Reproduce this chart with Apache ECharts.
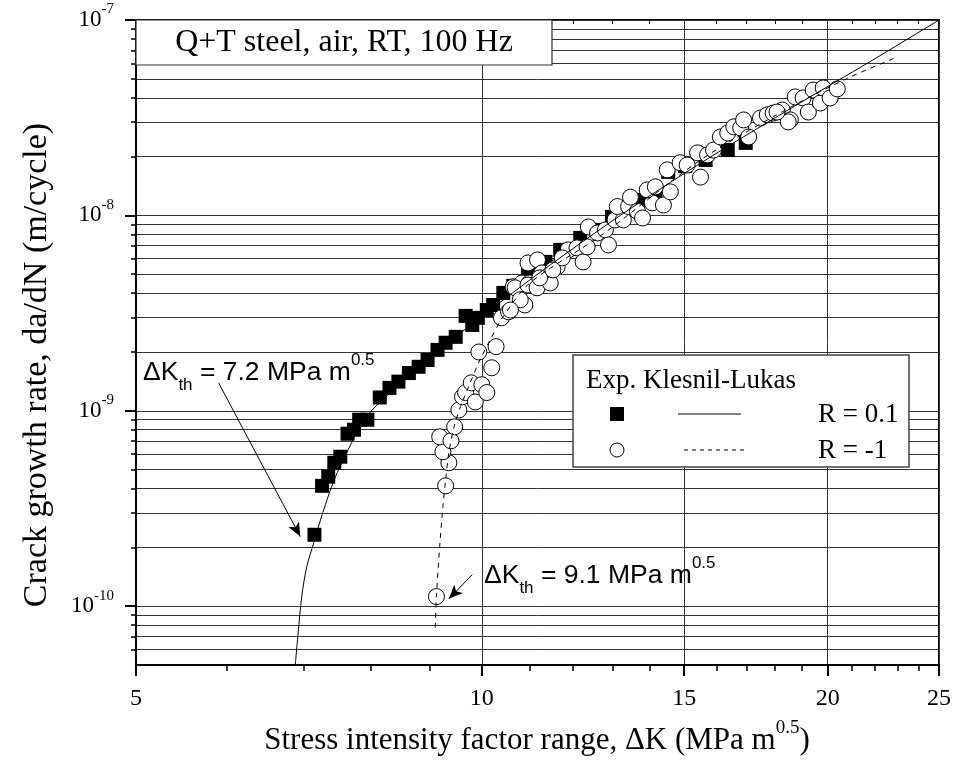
<!DOCTYPE html>
<html>
<head>
<meta charset="utf-8">
<script src="https://cdn.jsdelivr.net/npm/echarts@6/dist/echarts.min.js"></script>
<style>html,body{margin:0;padding:0;background:#fff}#chart{width:955px;height:760px}</style>
</head>
<body>
<div id="chart"></div>
<script>
// ---------------- data ----------------
// R = 0.1 experiments (filled squares): ΔK (MPa m^0.5), da/dN (m/cycle)
const sqK = [7.15,7.26,7.35,7.44,7.53,7.64,7.74,7.82,7.95,8.15,8.31,8.46,8.64,8.81,8.97,9.15,9.30,9.49,9.68,9.81,9.92,10.1,10.23,10.44,10.65,10.97,11.36,11.70,12.18,12.63,12.98,13.34,13.74,14.16,14.53,15.03,15.66,16.37,16.97];
const sqRate = [2.32e-10,4.13e-10,4.6e-10,5.42e-10,5.82e-10,7.63e-10,8.0e-10,9.0e-10,9.0e-10,1.17e-9,1.31e-9,1.41e-9,1.56e-9,1.68e-9,1.82e-9,2.05e-9,2.23e-9,2.39e-9,3.06e-9,2.75e-9,2.99e-9,3.28e-9,3.48e-9,4.01e-9,4.36e-9,5.14e-9,5.78e-9,6.66e-9,7.67e-9,8.43e-9,9.82e-9,1.07e-8,1.2e-8,1.30e-8,1.67e-8,1.79e-8,1.92e-8,2.16e-8,2.35e-8];

// R = -1 experiments (open circles)
const ciK = [9.13,9.30,9.36,9.25,9.19,9.40,9.47,9.55,9.62,9.68,9.79,9.87,10.0,10.1,9.94,10.2,10.29,10.40,10.55,10.90,10.65,10.84,11.0,10.69,10.97,11.18,10.97,11.17,11.47,11.28,11.63,11.89,11.75,12.1,12.25,12.38,12.35,12.61,12.81,12.89,13.06,13.28,13.12,13.42,13.66,13.80,14.07,14.39,13.47,13.93,14.16,14.59,14.50,14.88,15.09,15.41,15.5,15.72,15.91,16.13,16.37,16.57,16.8,17.07,16.9,17.48,17.72,17.93,18.26,18.56,18.74,19.04,19.24,19.43,19.71,19.82,20.1,20.39,18.48,18.07,10.8,11.23,11.53,10.59];
const ciRate = [1.12e-10,4.13e-10,5.42e-10,6.17e-10,7.36e-10,7.02e-10,8.28e-10,1.01e-9,1.18e-9,1.24e-9,1.39e-9,1.11e-9,1.36e-9,1.24e-9,2.0e-9,1.66e-9,2.13e-9,2.99e-9,3.21e-9,3.48e-9,4.31e-9,4.51e-9,4.51e-9,4.26e-9,5.71e-9,5.92e-9,4.4e-9,4.26e-9,4.51e-9,5.08e-9,5.45e-9,6.66e-9,6.06e-9,6.82e-9,5.78e-9,8.73e-9,6.9e-9,8.13e-9,8.43e-9,7.06e-9,9.48e-9,9.48e-9,1.11e-8,1.11e-8,1.05e-8,9.7e-9,1.16e-8,1.13e-8,1.24e-8,1.35e-8,1.40e-8,1.32e-8,1.71e-8,1.86e-8,1.81e-8,2.09e-8,1.57e-8,2.04e-8,2.16e-8,2.52e-8,2.64e-8,2.84e-8,2.80e-8,2.52e-8,3.08e-8,3.15e-8,3.27e-8,3.34e-8,3.46e-8,3.08e-8,4.04e-8,3.99e-8,3.38e-8,4.38e-8,3.76e-8,4.49e-8,3.99e-8,4.44e-8,3.01e-8,3.38e-8,3.7e-9,4.79e-9,5.26e-9,3.28e-9];

// Klesnil-Lukas curves, points
const klK1 = [6.88,6.92,6.97,7.04,7.14,7.27,7.44,7.65,7.90,8.17,8.85,9.58,10.38,11.47,13.2,15.5,18.9,21.8,25];
const klRate1 = [5e-11,7.3e-11,1.12e-10,1.59e-10,2.11e-10,3.01e-10,4.44e-10,6.32e-10,9.0e-10,1.12e-9,1.68e-9,2.5e-9,3.6e-9,5.58e-9,1.0e-8,1.85e-8,3.75e-8,6.15e-8,1e-7];
const klK2 = [9.11,9.13,9.19,9.25,9.30,9.36,9.46,9.58,9.74,9.93,10.17,10.44,11.01,12.7,15.5,18.6,20.84,22.9];
const klRate2 = [7.76e-11,1.12e-10,2.02e-10,3.24e-10,4.44e-10,6.1e-10,8.31e-10,1.05e-9,1.33e-9,1.75e-9,2.31e-9,3.04e-9,4.51e-9,7.9e-9,1.92e-8,3.6e-8,5.05e-8,6.4e-8];

// threshold annotation arrows: [start, tip] in data units
const arrowA = [[5.90, 1.39e-9], [6.95, 2.27e-10]];
const arrowB = [[9.81, 1.45e-10], [9.36, 1.09e-10]];

// axes
const xRange = [5, 25];
const yRange = [5e-11, 1e-7];
const xMajor = [5, 10, 15, 20, 25];
const xMinor = [6, 7, 8, 9, 11, 12, 13, 14, 16, 17, 18, 19, 21, 22, 23, 24];
const yMajor = [1e-10, 1e-9, 1e-8, 1e-7];
const yMinor = [6e-11,7e-11,8e-11,9e-11,
  2e-10,3e-10,4e-10,5e-10,6e-10,7e-10,8e-10,9e-10,
  2e-9,3e-9,4e-9,5e-9,6e-9,7e-9,8e-9,9e-9,
  2e-8,3e-8,4e-8,5e-8,6e-8,7e-8,8e-8,9e-8];

// texts
const titleText = 'Q+T steel, air, RT, 100 Hz';
const legendHeader = 'Exp. Klesnil-Lukas';
const seriesNames = ['R = 0.1', 'R = -1'];
const xTitle = 'Stress intensity factor range, ΔK (MPa m';
const yTitle = 'Crack growth rate, da/dN (m/cycle)';
const thA = '7.2', thB = '9.1';

// ---------------- chart ----------------
const L = Math.log10;
const pts = (ks, rs) => ks.map((k, i) => [L(k), L(rs[i])]);
const serif = "'Liberation Serif','Times New Roman',serif";
const sans = "'Liberation Sans',Arial,sans-serif";

const xBase = { type: 'value', min: L(xRange[0]), max: L(xRange[1]), gridIndex: 0 };
const yBase = { type: 'value', min: L(yRange[0]), max: L(yRange[1]), gridIndex: 0 };
const black = '#000';
const gridCol = '#333';

const chart = echarts.init(document.getElementById('chart'), null, { renderer: 'canvas' });

function thRich(val) {
  return '{m|ΔK}{sub|th}{m| = ' + val + ' MPa m}{sup|0.5}';
}
const thRichStyle = {
  m: { fontSize: 26.5, fontFamily: sans, lineHeight: 42, fill: black, color: black },
  sub: { fontSize: 17, fontFamily: sans, verticalAlign: 'bottom', fill: black, color: black },
  sup: { fontSize: 17, fontFamily: sans, verticalAlign: 'top', fill: black, color: black }
};

const option = {
  animation: false,
  backgroundColor: '#fff',
  grid: { left: 136, right: 16, top: 20, bottom: 95, show: true, borderColor: black, borderWidth: 2, containLabel: false },
  xAxis: [
    Object.assign({}, xBase, {
      position: 'bottom',
      axisLine: { show: true, onZero: false, lineStyle: { color: black, width: 2 } },
      axisTick: { show: true, inside: false, length: 11, customValues: xMajor.map(L), lineStyle: { color: black, width: 2 } },
      axisLabel: { show: true, customValues: xMajor.map(L), margin: 22, color: black, fontFamily: serif, fontSize: 24,
        formatter: v => String(Math.round(Math.pow(10, v))) },
      splitLine: { show: true, lineStyle: { color: gridCol, width: 1 } }
    }),
    Object.assign({}, xBase, {
      position: 'bottom',
      axisLine: { show: false, onZero: false },
      axisTick: { show: true, inside: false, length: 6, customValues: xMinor.map(L), lineStyle: { color: black, width: 1.5 } },
      axisLabel: { show: false },
      splitLine: { show: false }
    }),
    Object.assign({}, xBase, {
      position: 'top',
      axisLine: { show: false, onZero: false },
      axisTick: { show: true, inside: true, length: 4, customValues: xMinor.map(L), lineStyle: { color: black, width: 1 } },
      axisLabel: { show: false },
      splitLine: { show: false }
    })
  ],
  yAxis: [
    Object.assign({}, yBase, {
      position: 'left',
      axisLine: { show: true, onZero: false, lineStyle: { color: black, width: 2 } },
      axisTick: { show: true, inside: false, length: 11, customValues: yMajor.map(L), lineStyle: { color: black, width: 2 } },
      axisLabel: { show: true, customValues: yMajor.map(L), margin: 22,
        formatter: v => '{b|10}{s|' + Math.round(v) + '}',
        rich: {
          b: { fontSize: 23, fontFamily: serif, lineHeight: 36, color: black },
          s: { fontSize: 15, fontFamily: serif, verticalAlign: 'top', color: black }
        } },
      splitLine: { show: true, lineStyle: { color: gridCol, width: 1 } }
    }),
    Object.assign({}, yBase, {
      position: 'left',
      axisLine: { show: false, onZero: false },
      axisTick: { show: true, inside: false, length: 5, customValues: yMinor.map(L), lineStyle: { color: black, width: 1.5 } },
      axisLabel: { show: false },
      splitLine: { show: true, lineStyle: { color: gridCol, width: 1 } }
    })
  ],
  series: [
    { name: seriesNames[0], type: 'scatter', xAxisIndex: 0, yAxisIndex: 0, data: pts(sqK, sqRate),
      symbol: 'rect', symbolSize: 14, itemStyle: { color: black, opacity: 1 }, z: 2, silent: true },
    { name: seriesNames[1], type: 'scatter', xAxisIndex: 0, yAxisIndex: 0, data: pts(ciK, ciRate),
      symbol: 'circle', symbolSize: 16, itemStyle: { color: '#fff', borderColor: black, borderWidth: 1, opacity: 1 }, z: 3, silent: true },
    { name: seriesNames[0] + ' KL', type: 'line', xAxisIndex: 0, yAxisIndex: 0, data: pts(klK1, klRate1),
      symbol: 'none', showSymbol: false, smooth: 0.3, lineStyle: { color: black, width: 1 }, z: 4, silent: true,
      markLine: {
        silent: true, animation: false, symbol: ['none', 'arrow'], symbolSize: [9, 14],
        label: { show: false }, lineStyle: { color: black, width: 1, type: 'solid' },
        emphasis: { disabled: true },
        data: [
          [{ coord: [L(arrowA[0][0]), L(arrowA[0][1])] }, { coord: [L(arrowA[1][0]), L(arrowA[1][1])] }],
          [{ coord: [L(arrowB[0][0]), L(arrowB[0][1])] }, { coord: [L(arrowB[1][0]), L(arrowB[1][1])] }]
        ]
      } },
    { name: seriesNames[1] + ' KL', type: 'line', xAxisIndex: 0, yAxisIndex: 0, data: pts(klK2, klRate2),
      symbol: 'none', showSymbol: false, smooth: 0.3, lineStyle: { color: black, width: 1, type: [5, 5] }, z: 4, silent: true }
  ],
  graphic: [
    // title box
    { type: 'rect', z: 100, shape: { x: 136, y: 20, width: 416, height: 45 }, style: { fill: '#fff', stroke: '#333', lineWidth: 1.2 } },
    { type: 'text', z: 101, x: 344, y: 43, style: { text: titleText, fontSize: 32, fontFamily: serif, fill: black, align: 'center', verticalAlign: 'middle' } },
    // legend box
    { type: 'rect', z: 100, shape: { x: 573, y: 355, width: 336, height: 112 }, style: { fill: '#fff', stroke: '#444', lineWidth: 1.5 } },
    { type: 'text', z: 101, x: 586, y: 381, style: { text: legendHeader, fontSize: 27, fontFamily: serif, fill: black, align: 'left', verticalAlign: 'middle' } },
    { type: 'rect', z: 101, shape: { x: 610, y: 407, width: 14, height: 14 }, style: { fill: black } },
    { type: 'line', z: 101, shape: { x1: 678, y1: 414, x2: 741, y2: 414 }, style: { stroke: black, lineWidth: 1 } },
    { type: 'text', z: 101, x: 818, y: 415, style: { text: seriesNames[0], fontSize: 27, fontFamily: serif, fill: black, align: 'left', verticalAlign: 'middle' } },
    { type: 'circle', z: 101, shape: { cx: 617, cy: 450, r: 7 }, style: { fill: '#fff', stroke: black, lineWidth: 1 } },
    { type: 'line', z: 101, shape: { x1: 684, y1: 450, x2: 747, y2: 450 }, style: { stroke: black, lineWidth: 1, lineDash: [4, 4] } },
    { type: 'text', z: 101, x: 818, y: 451, style: { text: seriesNames[1], fontSize: 27, fontFamily: serif, fill: black, align: 'left', verticalAlign: 'middle' } },
    // threshold annotations
    { type: 'text', z: 101, x: 143, y: 373, style: { text: thRich(thA), rich: thRichStyle, fill: black, align: 'left', verticalAlign: 'middle' } },
    { type: 'text', z: 101, x: 484, y: 576, style: { text: thRich(thB), rich: thRichStyle, fill: black, align: 'left', verticalAlign: 'middle' } },
    // axis titles
    { type: 'text', z: 101, x: 537, y: 741, style: {
        text: '{a|' + xTitle + '}{s|0.5}{a|)}',
        rich: { a: { fontSize: 31, fontFamily: serif, lineHeight: 44, fill: black }, s: { fontSize: 19, fontFamily: serif, verticalAlign: 'top', fill: black } },
        align: 'center', verticalAlign: 'middle', fill: black } },
    { type: 'text', z: 101, x: 37, y: 365, rotation: Math.PI / 2, style: {
        text: yTitle, fontSize: 34, fontFamily: serif, fill: black, align: 'center', verticalAlign: 'middle' } }
  ]
};
chart.setOption(option);
</script>
</body>
</html>
